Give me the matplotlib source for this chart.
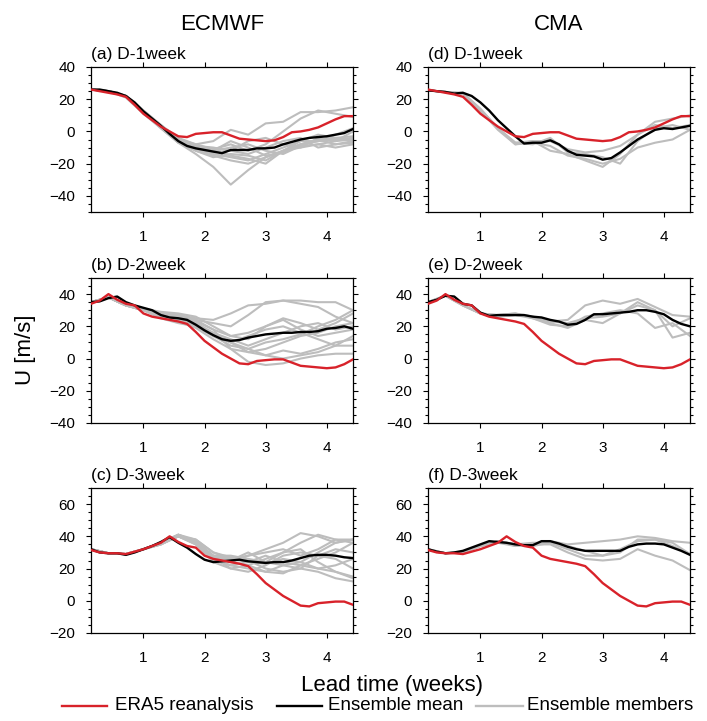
import numpy as np
import matplotlib
matplotlib.use('Agg')
import matplotlib.pyplot as plt
from matplotlib.ticker import MultipleLocator
from matplotlib.lines import Line2D

plt.rcParams['font.family'] = ['Liberation Sans', 'DejaVu Sans']

# ---------------- data ----------------
models = ['ECMWF', 'CMA']
leads = ['D-1week', 'D-2week', 'D-3week']
letters = [['a', 'b', 'c'], ['d', 'e', 'f']]
ylims = [(-50, 40), (-40, 50), (-20, 70)]
xticks = [1, 2, 3, 4]

days = np.arange(1, 32)            # daily lead (days)
member_days = np.arange(1, 32, 2)  # members sampled every 2 days

# ERA5 reanalysis, 45 consecutive days; each panel uses a 31-day window
era5 = [31.5, 30, 29.5, 29.5, 29, 30.5, 32, 34, 36, 40, 36.5, 34, 33, 28, 26,
        25, 24, 23, 21.5, 16.5, 11, 7, 3, 0, -3, -3.5, -1.5, -1, -0.5, -0.5,
        -2.5, -4.5, -5, -5.5, -6, -5.5, -3.5, -0.5, 0, 1, 2.5, 5, 7.5, 9.5, 9.5]
era5_offsets = [14, 7, 0]

ecmwf_mean_d1 = [26, 26, 25, 24, 22, 18, 12.5, 8, 3.5, -1.5, -6, -9, -10.5, -11.5, -12.5,
                 -13.5, -11.5, -11.5, -11.5, -10.5, -10.5, -10, -8, -6.5, -5, -4, -3.5,
                 -3, -2, -1, 1.5]
ecmwf_mean_d2 = [35, 35.5, 37.5, 38.5, 35, 33, 31.5, 30, 27, 25.5, 25, 24, 21, 17.5, 14.5,
                 12, 11, 11.5, 13, 14, 15, 15.5, 16, 16, 16.5, 16.5, 17, 18.5, 19, 20, 18.5]
ecmwf_mean_d3 = [32, 30, 29.5, 29.5, 28.5, 30, 32, 34, 36.5, 39.5, 36, 33, 29, 25.5, 24,
                 24.5, 25, 25.5, 24.5, 24, 23.5, 24, 24, 25, 26.5, 28, 28.5, 28.5, 28, 27, 26.5]
cma_mean_d1 = [25.5, 25, 24.5, 23.5, 24, 22, 18, 13, 7, 2, -3, -7.5, -7, -7, -5.5, -8, -12,
               -14.5, -15, -15.5, -17.5, -16.5, -13, -9, -5, -2, 1, 2, 1.5, 2.5, 3.5]
cma_mean_d2 = [35, 36.5, 39, 38.5, 34, 33, 28.5, 26.5, 27, 27, 27, 27, 26, 25.5, 24, 23,
               21, 21.5, 24, 27.5, 27.5, 28, 28.5, 29, 30, 30, 29, 27.5, 24, 21.5, 20]
cma_mean_d3 = [32, 30.5, 29.5, 30, 31, 33, 35, 37, 36.5, 36, 35, 34.5, 34.5, 37, 37, 35.5,
               33.5, 32, 31, 31, 31, 31, 31, 33.5, 35, 35.5, 35.5, 35, 33, 31, 28.5]

ecmwf_members_d1 = [
    [26, 25, 22, 12, 3, -7, -14, -22, -33, -24, -16, -12, -8, -6, -5, -4],
    [26, 25, 22, 13, 4, -4, -8, -6, 1, -2, 5, 6, 12, 12, 13, 15],
    [26, 25, 22, 12, 3, -6, -10, -11, -8, -12, -8, 0, 8, 13, 11, 9],
    [26, 25, 22, 12, 3, -6, -11, -14, -16, -18, -14, -10, -6, -6, -4, -6],
    [26, 25, 21, 11, 2, -7, -12, -16, -14, -15, -18, -12, -10, -8, -10, -8],
    [26, 25, 22, 12, 3, -5, -9, -12, -10, -8, -12, -14, -9, -8, -6, -5],
    [26, 25, 22, 13, 4, -5, -10, -13, -12, -14, -10, -6, -4, -10, -8, -7],
    [26, 25, 22, 12, 4, -6, -12, -15, -18, -20, -16, -12, -6, -2, -4, -3],
    [26, 25, 22, 12, 2, -7, -11, -12, -6, -10, -15, -13, -8, -6, -2, 2],
    [26, 25, 22, 12, 3, -6, -9, -10, -12, -6, -4, -8, -10, -4, -6, 0],
    [26, 25, 22, 12, 3, -5, -8, -11, -15, -17, -20, -12, -8, -5, -8, -6],
]
ecmwf_members_d2 = [
    [35, 38, 33, 31, 28, 27, 25, 24, 28, 33, 34, 36, 36, 35, 35, 30],
    [35, 38, 33, 30, 26, 26, 24, 22, 20, 27, 35, 36, 34, 32, 26, 22],
    [35, 38, 33, 31, 29, 28, 26, 20, 14, 12, 20, 25, 22, 18, 22, 28],
    [35, 38, 33, 30, 25, 22, 20, 14, 8, 6, 10, 12, 15, 20, 24, 30],
    [35, 38, 33, 31, 27, 25, 22, 16, 10, 4, 2, 5, 3, 6, 10, 12],
    [35, 38, 33, 31, 26, 23, 19, 12, 6, -2, -4, -3, 0, 2, 3, 3],
    [35, 38, 33, 30, 28, 26, 22, 15, 10, 14, 18, 20, 16, 12, 8, 8],
    [35, 38, 33, 31, 27, 24, 21, 16, 12, 8, 12, 16, 20, 22, 18, 20],
    [35, 38, 33, 30, 26, 25, 23, 18, 6, 4, 6, 10, 14, 16, 20, 22],
    [35, 38, 33, 31, 28, 27, 24, 18, 14, 16, 20, 24, 18, 14, 16, 18],
    [35, 38, 33, 30, 27, 24, 20, 14, 10, 6, 2, 0, 2, 4, 8, 14],
]
ecmwf_members_d3 = [
    [32, 29.5, 29, 32, 36, 40, 38, 30, 26, 28, 32, 36, 42, 40, 36, 38],
    [32, 29.5, 29, 32, 36, 41, 36, 28, 25, 30, 24, 30, 36, 41, 38, 36],
    [32, 29.5, 29, 32, 35, 40, 35, 26, 22, 20, 18, 22, 24, 30, 36, 38],
    [32, 29.5, 29, 32, 36, 41, 37, 28, 28, 26, 24, 22, 20, 18, 14, 12],
    [32, 29.5, 29, 32, 35, 40, 36, 27, 20, 18, 22, 28, 30, 28, 26, 20],
    [32, 29.5, 29, 32, 36, 40, 35, 25, 22, 24, 28, 24, 22, 20, 18, 15],
    [32, 29.5, 29, 32, 36, 41, 38, 30, 27, 25, 20, 18, 20, 28, 32, 30],
    [32, 29.5, 29, 32, 35, 40, 36, 24, 20, 22, 26, 30, 32, 24, 18, 14],
    [32, 29.5, 29, 32, 36, 40, 37, 27, 24, 22, 18, 17, 22, 26, 30, 36],
    [32, 29.5, 29, 32, 35, 41, 36, 26, 24, 28, 30, 32, 28, 32, 38, 38],
    [32, 29.5, 29, 32, 36, 40, 36, 28, 26, 24, 23, 26, 24, 20, 22, 26],
]
cma_members_d1 = [
    [25.5, 24.5, 23.5, 13, 2, -8, -6, -12, -14, -18, -22, -14, -2, 6, 8, 10],
    [25.5, 24.5, 23.5, 14, 2, -7, -8, -4, -13, -14, -16, -20, -6, 2, 4, 1],
    [25.5, 24.5, 23.5, 13, 1, -8, -7, -9, -15, -17, -20, -17, -10, -7, -5, 1],
    [25.5, 24.5, 24, 14, 2, -7, -6, -6, -11, -13, -12, -9, -2, 4, 2, 4],
]
cma_members_d2 = [
    [35, 39, 33, 28, 27, 28, 26, 23, 24, 33, 36, 34, 37, 32, 27, 26],
    [35, 39, 33, 28, 27, 28, 25, 22, 19, 24, 22, 28, 33, 30, 20, 25],
    [35, 39, 33, 28, 26, 27, 25, 21, 20, 26, 28, 30, 28, 19, 22, 14],
    [35, 39, 33, 28, 26, 27, 26, 23, 22, 25, 26, 28, 35, 30, 13, 16],
]
cma_members_d3 = [
    [32, 29.5, 30, 34, 37, 34, 35, 37, 35, 36, 37, 38, 40, 39, 37, 36],
    [32, 29.5, 30, 34, 37, 35, 36, 36, 32, 28, 28, 30, 38, 38, 36, 29],
    [32, 29.5, 30, 34, 36, 34, 35, 35, 30, 26, 25, 26, 32, 28, 25, 19],
    [32, 29.5, 30, 34, 37, 35, 34, 36, 34, 31, 28, 32, 37, 38, 34, 29],
]

means = [[ecmwf_mean_d1, ecmwf_mean_d2, ecmwf_mean_d3],
         [cma_mean_d1, cma_mean_d2, cma_mean_d3]]
members = [[ecmwf_members_d1, ecmwf_members_d2, ecmwf_members_d3],
           [cma_members_d1, cma_members_d2, cma_members_d3]]

# ---------------- style ----------------
RED = '#d8222a'
GRAY = '#bdbdbd'
BLACK = '#000000'

W, H = 707, 721
fig = plt.figure(figsize=(W / 100, H / 100), dpi=100)

col_left = [91, 428]
ax_w = 262
row_top = [67, 278, 488]
ax_h = 145

x_days = days / 7.0
x_mem = member_days / 7.0

for c in range(2):
    for r in range(3):
        ax = fig.add_axes([col_left[c] / W, 1 - (row_top[r] + ax_h) / H, ax_w / W, ax_h / H])
        for m in members[c][r]:
            ax.plot(x_mem, m, color=GRAY, lw=1.5, solid_joinstyle='round', zorder=2)
        ax.plot(x_days, means[c][r], color=BLACK, lw=1.7, zorder=3)
        off = era5_offsets[r]
        ax.plot(x_days, era5[off:off + 31], color=RED, lw=1.7, zorder=4)
        ax.set_xlim(1 / 7, 31 / 7)
        ax.set_ylim(*ylims[r])
        ax.set_xticks(xticks)
        ax.yaxis.set_major_locator(MultipleLocator(20))
        ax.yaxis.set_minor_locator(MultipleLocator(5))
        ax.tick_params(which='both', direction='out', top=True, right=True,
                       labeltop=False, labelright=False, width=0.8, colors='black')
        ax.tick_params(which='major', length=3.8, labelsize=11)
        ax.tick_params(axis='x', which='major', pad=9.5)
        ax.tick_params(axis='y', which='major', pad=7.5)
        ax.tick_params(which='minor', length=2)
        for s in ax.spines.values():
            s.set_linewidth(0.9)
        ax.text(0.0, 1 + 8 / ax_h, f'({letters[c][r]}) {leads[r]}', transform=ax.transAxes,
                ha='left', va='baseline', fontsize=12.5)

# column titles
for c in range(2):
    fig.text((col_left[c] + ax_w / 2) / W, 1 - 24 / H, models[c], ha='center', va='center',
             fontsize=16)

fig.text(25 / W, 1 - 350 / H, 'U [m/s]', rotation=90, ha='center', va='center', fontsize=16)
fig.text(392 / W, 1 - 686 / H, 'Lead time (weeks)', ha='center', va='center', fontsize=16)

# legend
leg_y = 1 - 706 / H
leg_items = [('ERA5 reanalysis', RED, 62, 107, 115),
             ('Ensemble mean', BLACK, 277, 322, 328),
             ('Ensemble members', GRAY, 476, 523, 527)]
for label, col, x0, x1, xt in leg_items:
    fig.add_artist(Line2D([x0 / W, x1 / W], [leg_y, leg_y], color=col, lw=1.7,
                          transform=fig.transFigure))
    fig.text(xt / W, leg_y, label, ha='left', va='center', fontsize=13.5)

fig.savefig('out.png', dpi=100)
